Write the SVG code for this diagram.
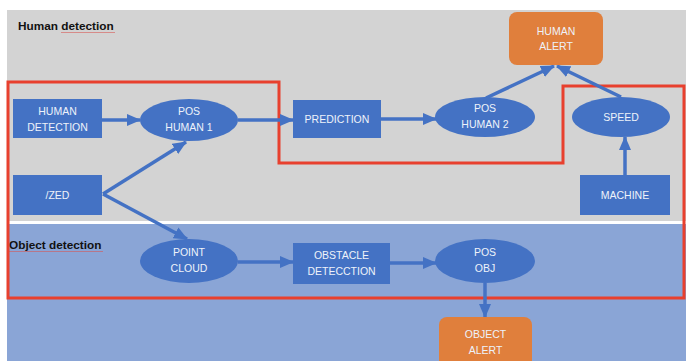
<svg xmlns="http://www.w3.org/2000/svg" width="686" height="361" viewBox="0 0 686 361">
<style>
.box{fill:#4472C4}
.alert{fill:#E07F3C}
.t{font-family:"Liberation Sans","Open Sans",sans-serif;font-size:10.5px;fill:#EEF2FA;text-anchor:middle}
.lbl{font-family:"Liberation Sans","Open Sans",sans-serif;font-size:11.8px;font-weight:bold;fill:#111}
.c{stroke:#4472C4;stroke-width:3.5;fill:none;marker-end:url(#ah)}
</style>
<defs>
<marker id="ah" markerUnits="userSpaceOnUse" markerWidth="14" markerHeight="14" viewBox="0 0 14 14" refX="13" refY="7" orient="auto">
<path d="M0,1 L14,7 L0,13 Z" fill="#4472C4"/>
</marker>
</defs>
<rect width="686" height="361" fill="#FFFFFF"/>
<rect x="7" y="10" width="679" height="211" fill="#D3D3D3"/>
<rect x="7" y="224" width="679" height="137" fill="#8AA5D6"/>
<text class="lbl" x="18" y="30">Human detection</text>
<line x1="61" y1="32.5" x2="115" y2="32.5" stroke="#D9534F" stroke-width="0.8" opacity="0.7"/>
<text class="lbl" x="9" y="249">Object detection</text>
<line x1="9" y1="251.5" x2="103" y2="251.5" stroke="#D9534F" stroke-width="0.8" opacity="0.7"/>
<path d="M8,82 H279 V163 H563 V86 H684 V298 H8 Z" fill="none" stroke="#E8402E" stroke-width="3"/>
<g id="connectors">
<line class="c" x1="102" y1="120" x2="140" y2="120"/>
<line class="c" x1="238" y1="120" x2="293" y2="120"/>
<line class="c" x1="381" y1="119" x2="436" y2="119"/>
<polyline class="c" points="103,194 186,142"/>
<polyline class="c" points="103,194 187,239"/>
<line class="c" x1="238" y1="262" x2="293" y2="262"/>
<line class="c" x1="390" y1="263" x2="436" y2="263"/>
<line class="c" x1="485" y1="283" x2="485" y2="317"/>
<line class="c" x1="486" y1="98" x2="554" y2="66"/>
<line class="c" x1="621" y1="97" x2="557" y2="66"/>
<line class="c" x1="625" y1="175" x2="625" y2="137"/>
</g>
<g id="human-alert"><rect class="alert" x="509" y="12" width="94" height="53" rx="8"/><text class="t" x="556" y="35">HUMAN</text><text class="t" x="556" y="50">ALERT</text></g>
<g id="human-detection"><rect class="box" x="13" y="99" width="89" height="39"/><text class="t" x="57.5" y="115">HUMAN</text><text class="t" x="57.5" y="131">DETECTION</text></g>
<g id="pos-human-1"><ellipse class="box" cx="189" cy="120" rx="49" ry="21"/><text class="t" x="189" y="115">POS</text><text class="t" x="189" y="131">HUMAN 1</text></g>
<g id="prediction"><rect class="box" x="293" y="100" width="88" height="38"/><text class="t" x="337" y="123">PREDICTION</text></g>
<g id="pos-human-2"><ellipse class="box" cx="485" cy="117" rx="50" ry="20"/><text class="t" x="485" y="112">POS</text><text class="t" x="485" y="128">HUMAN 2</text></g>
<g id="speed"><ellipse class="box" cx="621" cy="117" rx="49" ry="20"/><text class="t" x="621" y="121">SPEED</text></g>
<g id="zed"><rect class="box" x="13" y="175" width="89" height="40"/><text class="t" x="57.5" y="199">/ZED</text></g>
<g id="machine"><rect class="box" x="580" y="175" width="90" height="40"/><text class="t" x="625" y="199">MACHINE</text></g>
<g id="point-cloud"><ellipse class="box" cx="189" cy="261" rx="49" ry="22"/><text class="t" x="189" y="256">POINT</text><text class="t" x="189" y="272">CLOUD</text></g>
<g id="obstacle-detection"><rect class="box" x="293" y="243" width="97" height="41"/><text class="t" x="341.5" y="259">OBSTACLE</text><text class="t" x="341.5" y="275">DETECCTION</text></g>
<g id="pos-obj"><ellipse class="box" cx="485" cy="261" rx="50" ry="22"/><text class="t" x="485" y="256">POS</text><text class="t" x="485" y="272">OBJ</text></g>
<g id="object-alert"><rect class="alert" x="439" y="317" width="93" height="52" rx="8"/><text class="t" x="485.5" y="338">OBJECT</text><text class="t" x="485.5" y="354">ALERT</text></g>
</svg>
